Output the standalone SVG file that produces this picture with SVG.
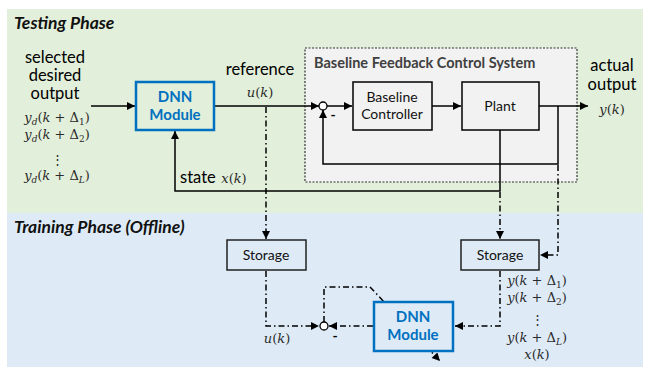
<svg xmlns="http://www.w3.org/2000/svg" width="645" height="368" viewBox="0 0 645 368">
<defs>
<marker id="ah" viewBox="0 0 10 10" refX="10" refY="5" markerWidth="9" markerHeight="8" markerUnits="userSpaceOnUse" orient="auto"><path d="M0,0 L10,5 L0,10 z" fill="#000"/></marker>
</defs>
<style>
.lbl{font-family:Lato,"Open Sans",sans-serif;font-size:16.5px;fill:#000}
.ttl{font-family:Lato,"Open Sans",sans-serif;font-size:17.5px;font-weight:bold;font-style:italic;fill:#111}
.math{font-family:"DejaVu Serif",serif;font-size:13px;fill:#2a2a2a}
.i{font-style:italic}
.box{fill:#f2f2f2;stroke:#000;stroke-width:1.5}
.sbox{fill:#deebf7;stroke:#222;stroke-width:1.5}
.dnn{stroke:#0070c0;stroke-width:2.5}
.dnnt{font-family:Lato,"Open Sans",sans-serif;font-weight:bold;font-size:15px;fill:#0070c0;text-anchor:middle}
.bt{font-family:Lato,"Open Sans",sans-serif;font-size:14px;fill:#111;text-anchor:middle}
.ln{fill:none;stroke:#000;stroke-width:1.5}
.dd{fill:none;stroke:#000;stroke-width:1.5;stroke-dasharray:6 3 1.5 3}
.sum{fill:#fff;stroke:#000;stroke-width:1.3}
</style>
<rect x="7" y="9" width="636" height="204" fill="#e2efda"/>
<rect x="7" y="213" width="636" height="154" fill="#deebf7"/>
<text class="ttl" x="14" y="29">Testing Phase</text>
<text class="ttl" x="14" y="233">Training Phase (Offline)</text>

<g id="bfcs">
<rect x="305" y="48" width="272" height="134" fill="#f2f2f2" stroke="#333" stroke-width="1.2" stroke-dasharray="2 1.5"/>
<text x="314" y="68" font-family="Lato, 'Open Sans', sans-serif" font-size="14.5" font-weight="bold" fill="#404040">Baseline Feedback Control System</text>
</g>

<g id="texts">
<text class="lbl" text-anchor="middle"><tspan x="55" y="63">selected</tspan><tspan x="55" y="81">desired</tspan><tspan x="55" y="99">output</tspan></text>
<text class="math" x="57" y="122" text-anchor="middle"><tspan class="i">y</tspan><tspan class="i" font-size="9" dy="3">d</tspan><tspan dy="-3">(</tspan><tspan class="i">k</tspan> + Δ<tspan font-size="9" dy="3">1</tspan><tspan dy="-3">)</tspan></text>
<text class="math" x="57" y="139" text-anchor="middle"><tspan class="i">y</tspan><tspan class="i" font-size="9" dy="3">d</tspan><tspan dy="-3">(</tspan><tspan class="i">k</tspan> + Δ<tspan font-size="9" dy="3">2</tspan><tspan dy="-3">)</tspan></text>
<text x="57" y="164" text-anchor="middle" font-family="DejaVu Serif, serif" font-size="13" fill="#2a2a2a">⋮</text>
<text class="math" x="57" y="180" text-anchor="middle"><tspan class="i">y</tspan><tspan class="i" font-size="9" dy="3">d</tspan><tspan dy="-3">(</tspan><tspan class="i">k</tspan> + Δ<tspan class="i" font-size="9" dy="3">L</tspan><tspan dy="-3">)</tspan></text>
<text class="lbl" x="260" y="75" text-anchor="middle">reference</text>
<text class="math" x="260" y="97" text-anchor="middle"><tspan class="i">u</tspan>(<tspan class="i">k</tspan>)</text>
<text class="lbl" x="180" y="183">state</text>
<text class="math" x="234" y="183" text-anchor="middle"><tspan class="i">x</tspan>(<tspan class="i">k</tspan>)</text>
<text class="lbl" text-anchor="middle" font-size="16"><tspan x="612" y="71">actual</tspan><tspan x="612" y="90">output</tspan></text>
<text class="math" x="612" y="114" text-anchor="middle"><tspan class="i">y</tspan>(<tspan class="i">k</tspan>)</text>
<text class="math" x="277" y="343" text-anchor="middle"><tspan class="i">u</tspan>(<tspan class="i">k</tspan>)</text>
<text class="math" x="537" y="285" text-anchor="middle"><tspan class="i">y</tspan>(<tspan class="i">k</tspan> + Δ<tspan font-size="9" dy="3">1</tspan><tspan dy="-3">)</tspan></text>
<text class="math" x="537" y="302" text-anchor="middle"><tspan class="i">y</tspan>(<tspan class="i">k</tspan> + Δ<tspan font-size="9" dy="3">2</tspan><tspan dy="-3">)</tspan></text>
<text x="537" y="324" text-anchor="middle" font-family="DejaVu Serif, serif" font-size="13" fill="#2a2a2a">⋮</text>
<text class="math" x="537" y="342" text-anchor="middle"><tspan class="i">y</tspan>(<tspan class="i">k</tspan> + Δ<tspan class="i" font-size="9" dy="3">L</tspan><tspan dy="-3">)</tspan></text>
<text class="math" x="537" y="359" text-anchor="middle"><tspan class="i">x</tspan>(<tspan class="i">k</tspan>)</text>
<text x="333" y="120" font-family="Lato, sans-serif" font-size="14" font-weight="bold" fill="#000" text-anchor="middle">-</text>
<text x="335" y="341" font-family="Lato, sans-serif" font-size="14" font-weight="bold" fill="#000" text-anchor="middle">-</text>
</g>

<g id="connectors">
<path class="ln" d="M91,106 H135" marker-end="url(#ah)"/>
<path class="ln" d="M214,106 H319" marker-end="url(#ah)"/>
<path class="ln" d="M327,106 H352" marker-end="url(#ah)"/>
<path class="ln" d="M432,106 H461" marker-end="url(#ah)"/>
<path class="ln" d="M539,106 H588" marker-end="url(#ah)"/>
<path class="ln" d="M558,106 V164 H323 V110" marker-end="url(#ah)"/>
<path class="ln" d="M500,130 V191 H175 V131" marker-end="url(#ah)"/>
<path class="dd" d="M266,107 V239" marker-end="url(#ah)"/>
<path class="dd" d="M500,192 V239" marker-end="url(#ah)"/>
<path class="dd" d="M558,165 V255 H540" marker-end="url(#ah)"/>
<path class="dd" d="M500,271 V326 H455" marker-end="url(#ah)"/>
<path class="dd" d="M266,271 V326 H319" marker-end="url(#ah)"/>
<path class="dd" d="M373,326 H329" marker-end="url(#ah)"/>
<path class="dd" d="M324,322 V287 H370 L440,361" marker-end="url(#ah)"/>
</g>

<g id="sum1"><circle class="sum" cx="323" cy="106" r="4"/></g>
<g id="sum2"><circle class="sum" cx="324" cy="326" r="4"/></g>

<g id="dnn1">
<rect class="dnn" x="136" y="82" width="78" height="48" fill="#e2efda"/>
<text class="dnnt" x="175" y="102">DNN</text>
<text class="dnnt" x="175" y="120">Module</text>
</g>
<g id="controller">
<rect class="box" x="353" y="82" width="79" height="48"/>
<text class="bt" x="392" y="102">Baseline</text>
<text class="bt" x="392" y="119">Controller</text>
</g>
<g id="plant">
<rect class="box" x="462" y="82" width="77" height="48"/>
<text class="bt" x="500" y="111">Plant</text>
</g>
<g id="storage1">
<rect class="sbox" x="227" y="240" width="79" height="30"/>
<text class="bt" x="266" y="260">Storage</text>
</g>
<g id="storage2">
<rect class="sbox" x="461" y="240" width="78" height="30"/>
<text class="bt" x="500" y="260">Storage</text>
</g>
<g id="dnn2">
<rect class="dnn" x="374" y="302" width="79" height="49" fill="#deebf7"/>
<text class="dnnt" x="413" y="322">DNN</text>
<text class="dnnt" x="413" y="340">Module</text>
</g>
</svg>
